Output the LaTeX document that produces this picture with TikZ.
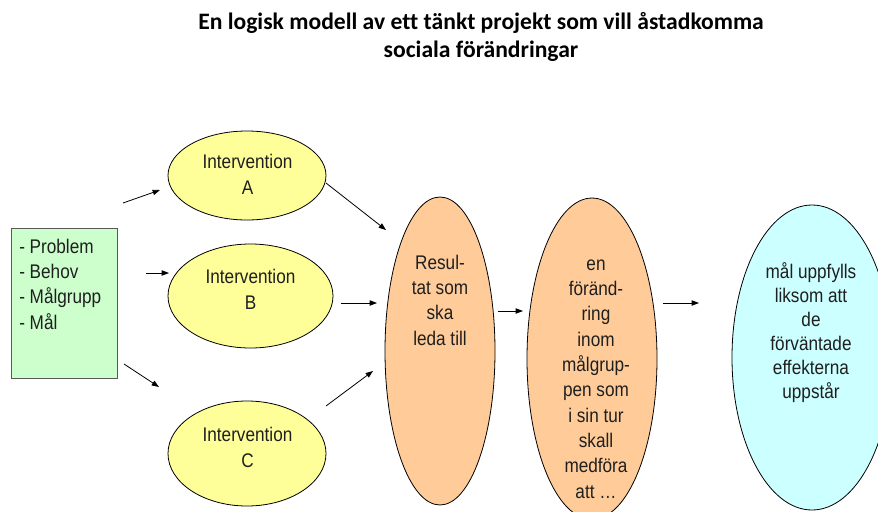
\documentclass[tikz,border=0pt]{standalone}
\usepackage{fontspec}
\setmainfont{Liberation Sans}[FakeStretch=0.87]
\newfontfamily\titlefont{Carlito}[Ligatures=NoCommon]
\usetikzlibrary{shapes.geometric,arrows.meta}
\definecolor{yel}{HTML}{FFFF99}
\definecolor{ora}{HTML}{FFCC99}
\definecolor{cya}{HTML}{CCFFFF}
\definecolor{grn}{HTML}{CCFFCC}
\begin{document}
\begin{tikzpicture}[x=0.75pt,y=-0.75pt,
  oval/.style={ellipse,draw=black,line width=0.6pt,inner sep=0pt},
  txt/.style={align=center,font=\fontsize{14.8}{19}\selectfont,text=black!88,inner sep=0pt},
  arr/.style={-{Triangle[length=5.5pt,width=4pt]},line width=0.6pt}]
\useasboundingbox (0,0) rectangle (878,511);
\clip (0,0) rectangle (878,511);
% title
\node[font=\titlefont\bfseries\fontsize{17.7}{21}\selectfont,align=center,inner sep=0pt] (title) at (481,37)
  {En logisk modell av ett tänkt projekt som vill åstadkomma\\sociala förändringar};
% left box
\node[draw=gray!70!black,fill=grn,line width=0.6pt,minimum width=79.5pt,minimum height=112.5pt,inner sep=0pt,anchor=north west] (box) at (11,228) {};
\node[txt,align=left,anchor=west] (boxtxt) at (19,284) {- Problem\\- Behov\\- Målgrupp\\- Mål};
% interventions
\node[oval,fill=yel,minimum width=118.5pt,minimum height=66.75pt] (A) at (247,175.5) {};
\node[oval,fill=yel,minimum width=123.75pt,minimum height=78pt] (B) at (250.5,296) {};
\node[oval,fill=yel,minimum width=118.5pt,minimum height=78.75pt] (C) at (247,453.5) {};
\node[txt] (Atxt) at (247.5,174.5) {Intervention\\A};
\node[txt] (Btxt) at (250.5,289.5) {Intervention\\B};
\node[txt] (Ctxt) at (247.5,447.5) {Intervention\\C};
% result
\node[oval,fill=ora,minimum width=82.5pt,minimum height=231pt] (R) at (440,351) {};
\node[txt] (Rtxt) at (440,300) {Resul-\\tat som\\ska\\leda till};
% change
\node[oval,fill=ora,minimum width=97.5pt,minimum height=241pt] (F) at (592,358.7) {};
\node[txt] (Ftxt) at (596,379) {en\\föränd-\\ring\\inom\\målgrup-\\pen som\\i sin tur\\skall\\medföra\\att \dots};
% goal
\node[oval,fill=cya,minimum width=120pt,minimum height=228.75pt] (M) at (812,357.5) {};
\node[txt,font=\fontsize{14.8}{18}\selectfont] (Mtxt) at (811,333) {mål uppfylls\\liksom att\\de\\förväntade\\effekterna\\uppstår};
% arrow end points
\coordinate (pA1) at (123,203); \coordinate (pA2) at (160,190);
\coordinate (pB1) at (146,273); \coordinate (pB2) at (169,273);
\coordinate (pC1) at (124,364); \coordinate (pC2) at (159,387);
\coordinate (aR1) at (326,183); \coordinate (aR2) at (386,230);
\coordinate (bR1) at (341,303); \coordinate (bR2) at (377,303);
\coordinate (cR1) at (326,406); \coordinate (cR2) at (373,371);
\coordinate (rf1) at (498,311); \coordinate (rf2) at (523,311);
\coordinate (fm1) at (663,303); \coordinate (fm2) at (699,303);
\draw[arr] (pA1) -- (pA2);
\draw[arr] (pB1) -- (pB2);
\draw[arr] (pC1) -- (pC2);
\draw[arr] (aR1) -- (aR2);
\draw[arr] (bR1) -- (bR2);
\draw[arr] (cR1) -- (cR2);
\draw[arr] (rf1) -- (rf2);
\draw[arr] (fm1) -- (fm2);
\end{tikzpicture}
\end{document}
